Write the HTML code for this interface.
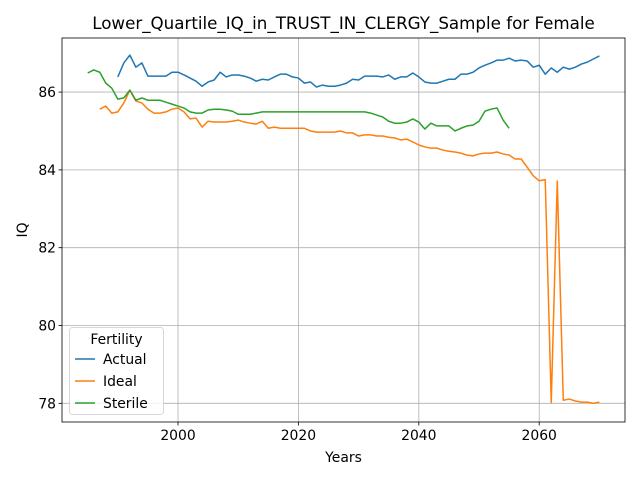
<!DOCTYPE html>
<html><head><meta charset="utf-8"><style>
body{margin:0;background:#fff;}
svg{display:block;font-family:"DejaVu Sans","Liberation Sans",sans-serif;}
</style></head><body>
<svg id="chart" width="640" height="480" viewBox="0 0 640 480"></svg>
<script>
const actualStart = 1990;
const actualValues = [86.39,86.75,86.95,86.64,86.75,86.41,86.41,86.41,86.41,86.51,86.51,86.44,86.36,86.28,86.15,86.26,86.31,86.51,86.39,86.44,86.44,86.41,86.36,86.28,86.33,86.31,86.39,86.46,86.46,86.39,86.36,86.23,86.26,86.13,86.18,86.15,86.15,86.18,86.23,86.33,86.31,86.41,86.41,86.41,86.39,86.44,86.33,86.39,86.39,86.49,86.39,86.26,86.23,86.23,86.28,86.33,86.33,86.46,86.46,86.51,86.62,86.69,86.75,86.82,86.82,86.87,86.80,86.82,86.80,86.64,86.69,86.46,86.62,86.51,86.64,86.59,86.64,86.72,86.77,86.85,86.93];
const idealStart = 1987;
const idealValues = [85.56,85.64,85.46,85.49,85.72,86.05,85.77,85.72,85.56,85.46,85.46,85.49,85.56,85.59,85.49,85.31,85.33,85.10,85.25,85.23,85.23,85.23,85.25,85.28,85.23,85.20,85.18,85.25,85.07,85.10,85.07,85.07,85.07,85.07,85.07,85.00,84.97,84.97,84.97,84.97,85.00,84.95,84.95,84.87,84.90,84.90,84.87,84.87,84.84,84.82,84.77,84.79,84.72,84.64,84.59,84.56,84.56,84.51,84.48,84.46,84.43,84.38,84.36,84.41,84.43,84.43,84.46,84.41,84.38,84.28,84.28,84.07,83.85,83.72,83.75,78.02,83.71,78.08,78.11,78.06,78.03,78.03,78.00,78.03];
const sterileStart = 1985;
const sterileValues = [86.49,86.57,86.51,86.23,86.10,85.82,85.85,86.05,85.79,85.85,85.79,85.79,85.79,85.74,85.69,85.64,85.59,85.49,85.46,85.46,85.54,85.56,85.56,85.54,85.51,85.43,85.43,85.43,85.46,85.49,85.49,85.49,85.49,85.49,85.49,85.49,85.49,85.49,85.49,85.49,85.49,85.49,85.49,85.49,85.49,85.49,85.49,85.46,85.41,85.36,85.25,85.20,85.20,85.23,85.31,85.23,85.05,85.20,85.13,85.13,85.13,85.00,85.07,85.13,85.15,85.25,85.51,85.56,85.59,85.28,85.07];
const xTicks = [2000,2020,2040,2060];
const yTicks = [78,80,82,84,86];
const seriesNames = ["Actual","Ideal","Sterile"];
const colors = ["#1f77b4","#ff7f0e","#2ca02c"];

const L=62,R=625,T=38,B=422;
const xMin=1980.73,xMax=2074.25,yMin=77.52,yMax=87.39;
const sx=v=>L+(v-xMin)/(xMax-xMin)*(R-L);
const sy=v=>B-(v-yMin)/(yMax-yMin)*(B-T);
const svg=document.getElementById('chart');
const NS="http://www.w3.org/2000/svg";
function mk(tag,attrs,parent){const e=document.createElementNS(NS,tag);for(const k in attrs)e.setAttribute(k,attrs[k]);(parent||svg).appendChild(e);return e;}

const grid=mk('g',{});


xTicks.forEach(t=>{const l=mk('line',{x1:sx(t),x2:sx(t),y1:T,y2:B,stroke:'#b0b0b0','stroke-width':0.8},grid);
});
yTicks.forEach(t=>{const l=mk('line',{x1:L,x2:R,y1:sy(t),y2:sy(t),stroke:'#b0b0b0','stroke-width':0.8},grid);
});

const starts=[actualStart,idealStart,sterileStart];
const vals=[actualValues,idealValues,sterileValues];
vals.forEach((arr,i)=>{
  const pts=arr.map((v,j)=>sx(starts[i]+j).toFixed(2)+','+sy(v).toFixed(2)).join(' ');
  const p=mk('polyline',{points:pts,fill:'none',stroke:colors[i],'stroke-width':1.5,'stroke-linejoin':'round'});
  
  
});

const frame=mk('rect',{x:L,y:T,width:R-L,height:B-T,fill:'none',stroke:'#000','stroke-width':0.8});



xTicks.forEach(t=>{
  mk('line',{x1:sx(t),x2:sx(t),y1:B,y2:B+3.5,stroke:'#000','stroke-width':0.8});
  const tx=mk('text',{x:sx(t),y:B+18,'text-anchor':'middle','font-size':13.9});
  tx.textContent=t;
  
  
});
yTicks.forEach(t=>{
  mk('line',{x1:L-3.5,x2:L,y1:sy(t),y2:sy(t),stroke:'#000','stroke-width':0.8});
  const tx=mk('text',{x:L-6,y:sy(t)+5,'text-anchor':'end','font-size':13.9});
  tx.textContent=t;
  
  
});

const title=mk('text',{x:(L+R)/2,y:29,'text-anchor':'middle','font-size':16.7});
title.textContent='Lower_Quartile_IQ_in_TRUST_IN_CLERGY_Sample for Female';


const xt=mk('text',{x:(L+R)/2,y:462,'text-anchor':'middle','font-size':13.9});
xt.textContent='Years';


const yt=mk('text',{x:27,y:(T+B)/2,'text-anchor':'middle','font-size':13.9,transform:'rotate(-90 27 '+((T+B)/2)+')'});
yt.textContent='IQ';



const lg=mk('g',{});


mk('rect',{x:69.5,y:327.5,width:94,height:87,rx:3,fill:'#fff','fill-opacity':0.8,stroke:'#ccc','stroke-width':0.8},lg);
const lt=mk('text',{x:116.5,y:344,'text-anchor':'middle','font-size':13.9},lg);
lt.textContent='Fertility';


seriesNames.forEach((n,i)=>{
  const y=359+i*22;
  const e=mk('g',{},lg);
  
  
  mk('line',{x1:75,x2:95,y1:y,y2:y,stroke:colors[i],'stroke-width':1.5},e);
  const t=mk('text',{x:103,y:y+5,'font-size':13.9},e);
  t.textContent=n;
});
</script>
</body></html>
